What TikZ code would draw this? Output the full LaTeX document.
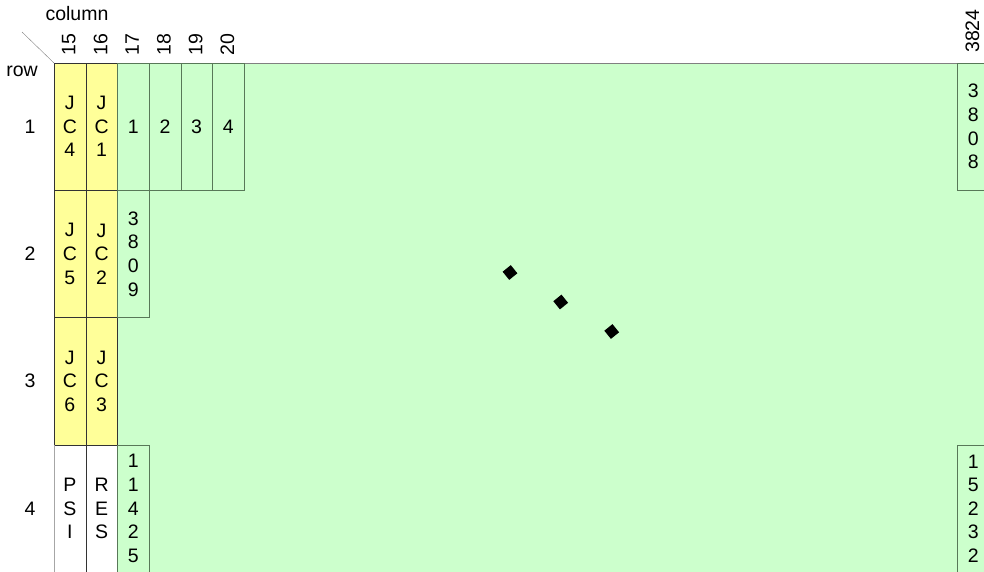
\documentclass[tikz,border=0pt]{standalone}
\usepackage{fontspec}
\setmainfont{Liberation Sans}
\usetikzlibrary{math}
\definecolor{cellgreen}{RGB}{204,255,204}
\definecolor{cellyellow}{RGB}{255,255,153}
\definecolor{gridgreen}{RGB}{88,120,88}
\begin{document}
\begin{tikzpicture}[x=1pt,y=-1pt,
  txt/.style={font=\fontsize{19.5}{23.6}\selectfont, align=center, inner sep=0pt},
  colnum/.style={txt, rotate=90, anchor=west},
  dotsq/.style={fill=black, minimum size=10.5pt, inner sep=0pt, rotate=39}]
\tikzmath{
\w=31.7;
\h=127.3;
\xl=54;
\yt=63;
\xr=957.5;
}
\useasboundingbox (0,0) rectangle (984,571);
\clip (0,0) rectangle (984,571);

\fill[cellgreen] (\xl+2*\w,\yt) rectangle (1000,600);
\draw[gray] (\xl+2*\w,\yt) -- (1000,\yt);
\fill[cellyellow] (\xl,\yt) rectangle (\xl+2*\w,\yt+3*\h);

\foreach \r in {0,1,2} {
  \draw[black!80] (\xl,\yt+\r*\h) rectangle +(\w,\h);
  \draw[black!80] (\xl+\w,\yt+\r*\h) rectangle +(\w,\h);
}
\draw[gray!70] (\xl,\yt+3*\h) -- (\xl,600);
\draw[black!80] (\xl+\w,\yt+3*\h) -- (\xl+\w,600);

\foreach \c in {2,...,5}
  \draw[gridgreen] (\xl+\c*\w,\yt) rectangle +(\w,\h);
\draw[gridgreen] (\xl+2*\w,\yt+\h) rectangle +(\w,\h);
\draw[gridgreen] (\xl+2*\w,\yt+3*\h) rectangle +(\w,\h);
\draw[gridgreen] (\xr,\yt) rectangle +(\w,\h);
\draw[gridgreen] (\xr,\yt+3*\h) rectangle +(\w,\h);

\coordinate (corner) at (\xl,\yt);
\coordinate (diag) at (22,32);
\draw[gray] (diag) -- (corner);
\node[txt] (coltitle) at (77,14) {column};
\node[txt] (rowtitle) at (22,71) {row};

\foreach \c/\n in {0/15,1/16,2/17,3/18,4/19,5/20}
  \node[colnum] (head\n) at (\xl+\c*\w+0.5*\w-1,56) {\n};
\node[colnum] (head3824) at (\xr+0.5*\w-1,53) {3824};

\foreach \r in {1,...,4}
  \node[txt] (row\r) at (30,\yt+\r*\h-0.5*\h) {\r};

\node[txt] (jc4) at (\xl+0.5*\w,\yt+0.5*\h) {J\\C\\4};
\node[txt] (jc1) at (\xl+1.5*\w,\yt+0.5*\h) {J\\C\\1};
\node[txt] (jc5) at (\xl+0.5*\w,\yt+1.5*\h) {J\\C\\5};
\node[txt] (jc2) at (\xl+1.5*\w,\yt+1.5*\h) {J\\C\\2};
\node[txt] (jc6) at (\xl+0.5*\w,\yt+2.5*\h) {J\\C\\6};
\node[txt] (jc3) at (\xl+1.5*\w,\yt+2.5*\h) {J\\C\\3};
\node[txt] (psi) at (\xl+0.5*\w,\yt+3.5*\h) {P\\S\\I};
\node[txt] (res) at (\xl+1.5*\w,\yt+3.5*\h) {R\\E\\S};

\foreach \c/\n in {2/1,3/2,4/3,5/4}
  \node[txt] (cell\n) at (\xl+\c*\w+0.5*\w,\yt+0.5*\h) {\n};
\node[txt] (cell3809) at (\xl+2.5*\w,\yt+1.5*\h) {3\\8\\0\\9};
\node[txt] (cell11425) at (\xl+2.5*\w,\yt+3.5*\h) {1\\1\\4\\2\\5};
\node[txt] (cell3808) at (\xr+0.5*\w,\yt+0.5*\h) {3\\8\\0\\8};
\node[txt] (cell15232) at (\xr+0.5*\w,\yt+3.5*\h) {1\\5\\2\\3\\2};

\node[dotsq] (dot1) at (510,272.5) {};
\node[dotsq] (dot2) at (560.7,302) {};
\node[dotsq] (dot3) at (611.7,331.5) {};
\end{tikzpicture}
\end{document}
